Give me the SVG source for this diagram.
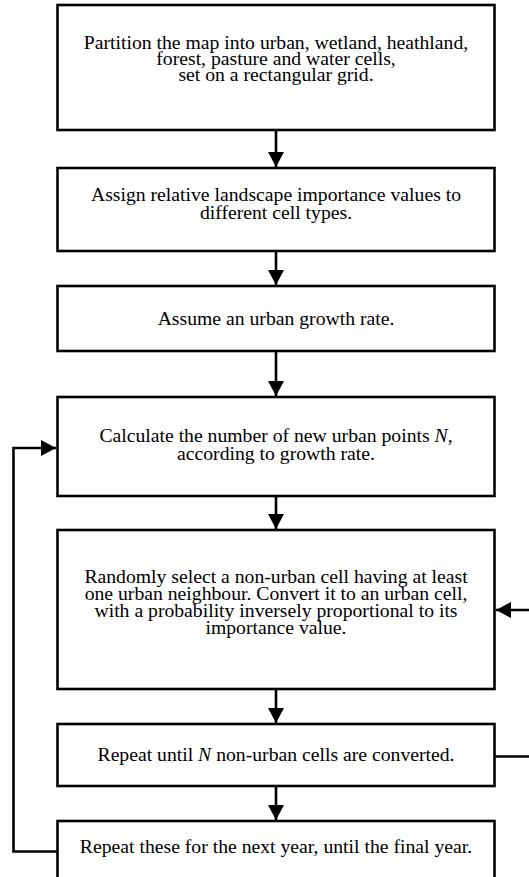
<svg xmlns="http://www.w3.org/2000/svg" width="529" height="877" viewBox="0 0 529 877">
<style>
.box{fill:#fff;stroke:#000;stroke-width:2.6}
.t{font-family:"Liberation Serif","Times New Roman",serif;font-size:19.7px;fill:#000;text-anchor:middle}
.i{font-style:italic}
.c{fill:none;stroke:#000;stroke-width:2.6}
</style>
<defs>
<marker id="ah" markerUnits="userSpaceOnUse" markerWidth="16" markerHeight="16" viewBox="0 0 16 16" refX="15" refY="8" orient="auto">
<path d="M0,0 L15,8 L0,16 Z" fill="#000"/>
</marker>
</defs>
<rect width="529" height="877" fill="#fff"/>
<g id="connectors">
<path class="c" d="M276,130 V167" marker-end="url(#ah)"/>
<path class="c" d="M276,251 V285" marker-end="url(#ah)"/>
<path class="c" d="M276,351 V396" marker-end="url(#ah)"/>
<path class="c" d="M276,496 V529" marker-end="url(#ah)"/>
<path class="c" d="M276,689 V723" marker-end="url(#ah)"/>
<path class="c" d="M276,786 V820" marker-end="url(#ah)"/>
<path class="c" d="M57,851.5 H13.5 V448 H56" marker-end="url(#ah)"/>
<path class="c" d="M495,756.5 H532 V610 H496" marker-end="url(#ah)"/>
</g>
<g id="n1">
<rect class="box" x="57.5" y="5" width="437" height="125"/>
<text class="t" x="276" y="49">Partition the map into urban, wetland, heathland,</text>
<text class="t" x="276" y="65">forest, pasture and water cells,</text>
<text class="t" x="276" y="81">set on a rectangular grid.</text>
</g>
<g id="n2">
<rect class="box" x="57.5" y="168" width="437" height="83"/>
<text class="t" x="276" y="201">Assign relative landscape importance values to</text>
<text class="t" x="276" y="219">different cell types.</text>
</g>
<g id="n3">
<rect class="box" x="57.5" y="286" width="437" height="65"/>
<text class="t" x="276" y="325">Assume an urban growth rate.</text>
</g>
<g id="n4">
<rect class="box" x="57.5" y="397" width="437" height="99"/>
<text class="t" x="276" y="442">Calculate the number of new urban points <tspan class="i">N</tspan>,</text>
<text class="t" x="276" y="460">according to growth rate.</text>
</g>
<g id="n5">
<rect class="box" x="57.5" y="530" width="437" height="159"/>
<text class="t" x="276" y="583">Randomly select a non-urban cell having at least</text>
<text class="t" x="276" y="600">one urban neighbour. Convert it to an urban cell,</text>
<text class="t" x="276" y="617">with a probability inversely proportional to its</text>
<text class="t" x="276" y="634">importance value.</text>
</g>
<g id="n6">
<rect class="box" x="57.5" y="724" width="437" height="62"/>
<text class="t" x="276" y="761">Repeat until <tspan class="i">N</tspan> non-urban cells are converted.</text>
</g>
<g id="n7">
<rect class="box" x="57.5" y="821" width="437" height="70"/>
<text class="t" x="276" y="853">Repeat these for the next year, until the final year.</text>
</g>
</svg>
